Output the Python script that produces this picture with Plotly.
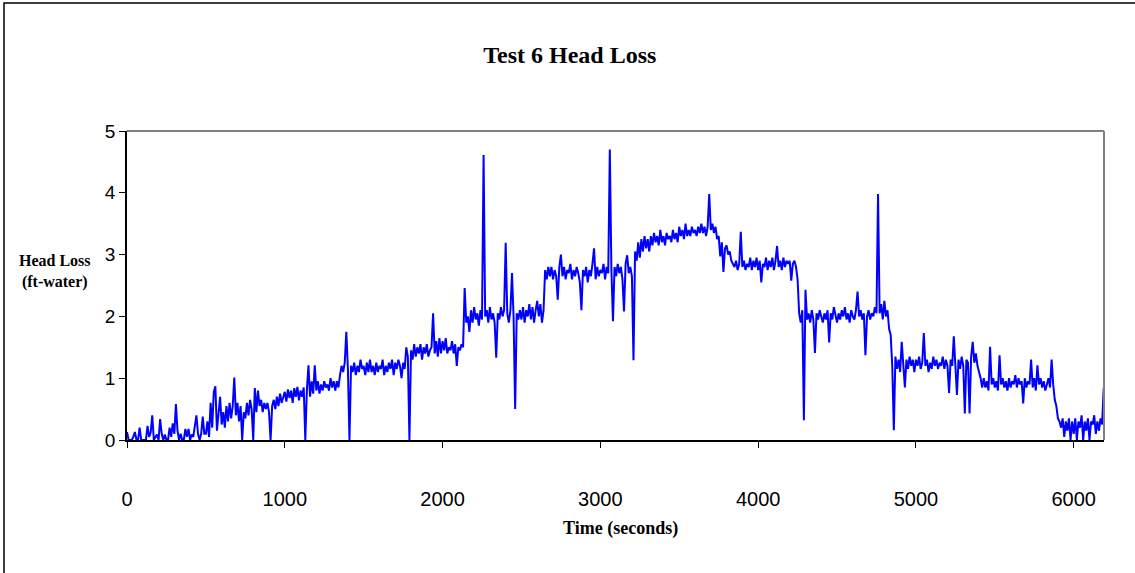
import numpy as np
import plotly.graph_objects as go

hl_0000 = [0.13, 0, 0, 0, 0.05, 0.13, 0, 0, 0.2, 0, 0, 0, 0, 0.23, 0.05, 0.12, 0.40, 0, 0.05, 0.09,
           0, 0.34, 0.1, 0, 0.09, 0, 0, 0.2, 0.05, 0.27, 0.1, 0.58, 0.15, 0, 0.1, 0, 0, 0.18, 0.05, 0.18,
           0, 0.09, 0.05, 0.2, 0.40, 0.1, 0, 0.1, 0.38, 0.1]
hl_0500 = [0.1, 0.3, 0.05, 0.6, 0.2, 0.78, 0.87, 0.15, 0.5, 0.7, 0.25, 0.45, 0.2, 0.55, 0.3, 0.6, 0.35, 0.55, 1.01, 0.4,
           0.6, 0.3, 0.55, 0.0, 0.45, 0.35, 0.6, 0.4, 0.65, 0.5, 0.0, 0.84, 0.45, 0.8, 0.55, 0.65, 0.45, 0.6, 0.5, 0.6,
           0.45, 0.0, 0.55, 0.65, 0.5, 0.7, 0.55, 0.75, 0.6, 0.7]
hl_1000 = [0.78, 0.62, 0.82, 0.68, 0.8, 0.6, 0.84, 0.7, 0.86, 0.64, 0.8, 0.7, 0.85, 0.0, 0.8, 1.21, 0.7, 0.95, 0.75, 1.21,
           0.8, 0.95, 0.75, 0.9, 0.8, 0.95, 0.85, 0.9, 0.8, 1.0, 0.85, 0.95, 0.8, 0.95, 0.85, 1.05, 1.2, 1.1, 1.25, 1.75,
           1.15, 0.0, 1.2, 1.1, 1.25, 1.05, 1.2, 1.1, 1.3, 1.15]
hl_1500 = [1.2, 1.05, 1.25, 1.1, 1.3, 1.1, 1.2, 1.05, 1.25, 1.1, 1.2, 1.15, 1.3, 1.05, 1.2, 1.1, 1.25, 1.15, 1.3, 1.05,
           1.25, 1.15, 1.3, 1.2, 1.0, 1.25, 1.15, 1.5, 1.35, 0.0, 1.45, 1.3, 1.55, 1.35, 1.5, 1.4, 1.55, 1.3, 1.5, 1.4,
           1.55, 1.35, 1.45, 1.5, 2.05, 1.4, 1.6, 1.35, 1.65, 1.4]
hl_2000 = [1.6, 1.45, 1.65, 1.4, 1.5, 1.45, 1.6, 1.4, 1.55, 1.2, 1.5, 1.45, 1.55, 1.5, 2.46, 1.9, 2.0, 1.75, 2.1, 1.9,
           2.15, 1.95, 2.05, 1.85, 2.1, 1.95, 4.61, 2.0, 2.1, 1.9, 2.15, 1.95, 2.05, 1.9, 1.33, 2.05, 1.95, 2.15, 2.0, 2.1,
           3.19, 2.05, 1.9, 2.1, 2.7, 2.0, 0.5, 2.05, 1.95, 2.1]
hl_2500 = [1.95, 2.15, 1.9, 2.1, 2.0, 2.2, 1.95, 2.15, 1.9, 2.1, 2.25, 2.0, 2.2, 1.9, 2.1, 2.75, 2.6, 2.8, 2.65, 2.8,
           2.6, 2.75, 2.65, 2.27, 2.8, 3.0, 2.65, 2.8, 2.6, 2.75, 2.7, 2.85, 2.6, 2.75, 2.65, 2.8, 2.7, 2.55, 2.1, 2.75,
           2.65, 2.8, 2.55, 2.75, 2.65, 2.85, 3.1, 2.6, 2.8, 2.65]
hl_3000 = [2.75, 2.7, 2.85, 2.6, 2.8, 2.7, 4.70, 2.75, 1.92, 2.8, 2.65, 2.85, 2.7, 2.8, 2.6, 2.08, 2.85, 2.99, 2.7, 2.8,
           2.65, 1.29, 3.05, 2.9, 3.2, 2.95, 3.25, 3.05, 3.3, 3.1, 3.25, 3.05, 3.3, 3.15, 3.35, 3.2, 3.3, 3.15, 3.4, 3.2,
           3.3, 3.15, 3.35, 3.25, 3.3, 3.2, 3.4, 3.25, 3.35, 3.2]
hl_3500 = [3.45, 3.3, 3.4, 3.25, 3.5, 3.3, 3.4, 3.3, 3.45, 3.35, 3.4, 3.3, 3.45, 3.35, 3.5, 3.35, 3.45, 3.3, 3.45, 3.98,
           3.4, 3.5, 3.35, 3.45, 3.25, 3.3, 2.97, 3.2, 2.72, 3.1, 3.15, 3.0, 3.05, 2.9, 2.85, 2.8, 2.9, 2.75, 2.85, 3.37,
           2.8, 2.9, 2.75, 2.85, 2.8, 2.95, 2.75, 2.9, 2.8, 2.95]
hl_4000 = [2.75, 2.9, 2.55, 2.85, 2.8, 2.95, 2.75, 2.9, 2.8, 2.95, 2.75, 2.9, 3.14, 2.8, 2.9, 2.75, 2.95, 2.8, 2.9, 2.85,
           2.9, 2.58, 2.85, 2.9, 2.8, 2.6, 2.05, 1.9, 2.1, 0.32, 2.43, 1.95, 2.05, 1.9, 2.1, 1.95, 1.41, 2.05, 1.95, 2.1,
           2.0, 1.9, 2.05, 1.95, 2.1, 1.58, 2.05, 1.95, 2.15, 2.0]
hl_4500 = [1.9, 2.05, 1.95, 2.1, 2.0, 2.15, 1.95, 2.05, 1.9, 2.1, 2.0, 1.95, 2.1, 2.4, 2.0, 2.1, 1.95, 2.05, 1.37, 2.0,
           2.1, 1.95, 2.05, 2.0, 2.15, 2.05, 3.98, 2.05, 2.2, 1.95, 2.25, 2.0, 2.1, 1.8, 1.7, 1.2, 0.16, 1.35, 1.15, 1.3,
           1.1, 1.59, 1.2, 0.85, 1.3, 1.15, 1.35, 1.2, 1.3, 1.1]
hl_5000 = [1.3, 1.2, 1.35, 1.15, 1.25, 1.73, 1.2, 1.3, 1.1, 1.25, 1.15, 1.35, 1.2, 1.3, 1.15, 1.25, 1.2, 1.35, 1.15, 1.3,
           1.2, 0.76, 1.3, 1.2, 1.68, 1.25, 0.73, 1.3, 1.15, 1.35, 1.2, 0.43, 1.3, 1.25, 0.43, 1.35, 1.59, 1.25, 1.4, 1.2,
           1.1, 1.0, 0.85, 1.0, 0.85, 0.95, 0.8, 1.51, 0.9, 1.0]
hl_5500 = [0.85, 0.95, 0.8, 1.37, 0.9, 1.0, 0.85, 0.95, 0.8, 1.0, 0.85, 0.95, 0.9, 1.05, 0.85, 1.0, 0.9, 0.95, 0.59, 1.0,
           0.85, 0.95, 0.9, 1.3, 0.85, 1.0, 0.8, 1.21, 0.9, 1.0, 0.85, 0.95, 0.8, 0.9, 1.0, 0.85, 1.3, 0.9, 0.65, 0.55,
           0.35, 0.3, 0.2, 0.35, 0.05, 0.3, 0.15, 0.35, 0.0, 0.3]
hl_6000 = [0.1, 0.35, 0.0, 0.3, 0.2, 0.4, 0.0, 0.3, 0.15, 0.35, 0.0, 0.3, 0.25, 0.4, 0.1, 0.3, 0.15, 0.35, 0.25, 0.84]

SAMPLE_STEP_S = 10
head_loss = (hl_0000 + hl_0500 + hl_1000 + hl_1500 + hl_2000 + hl_2500 + hl_3000 +
             hl_3500 + hl_4000 + hl_4500 + hl_5000 + hl_5500 + hl_6000)
time_s = np.arange(len(head_loss)) * SAMPLE_STEP_S

x_ticks = [0, 1000, 2000, 3000, 4000, 5000, 6000]
y_ticks = [0, 1, 2, 3, 4, 5]

title_text = "Test 6 Head Loss"
x_title = "Time (seconds)"
y_title = "Head Loss<br>(ft-water)"

W, H = 1135, 573
L, R, T, B = 127, 31, 131, 133
pw, ph = W - L - R, H - T - B

fig = go.Figure()
fig.add_trace(go.Scatter(x=time_s, y=head_loss, mode="lines",
                         line=dict(color="#0000FF", width=2), hoverinfo="x+y"))

axis_font = dict(family="Liberation Sans, Arial, sans-serif", size=19, color="black")
fig.update_layout(
    width=W, height=H,
    margin=dict(l=L, r=R, t=T, b=B, autoexpand=False),
    paper_bgcolor="white", plot_bgcolor="white",
    showlegend=False,
    title=dict(text=f"<b>{title_text}</b>", x=0.502, xanchor="center", y=1 - 55 / H, yanchor="middle",
               font=dict(family="Liberation Serif, Times New Roman, serif", size=24, color="black")),
    xaxis=dict(range=[0, 6192], tickvals=x_ticks, ticktext=[str(v) for v in x_ticks],
               showgrid=False, zeroline=False, showline=True, linecolor="black", linewidth=2,
               ticks="outside", ticklen=6, tickcolor="black", tickwidth=1,
               tickfont=dict(axis_font, size=20), ticklabelstandoff=34),
    yaxis=dict(range=[0, 5], tickvals=y_ticks, ticktext=[str(v) for v in y_ticks],
               showgrid=False, zeroline=False, showline=True, linecolor="black", linewidth=1.5,
               ticks="outside", ticklen=6, tickcolor="black", tickwidth=1,
               tickfont=axis_font),
)

# gray top and right frame of the plot area
fig.add_shape(type="line", xref="paper", yref="paper", x0=0, x1=1, y0=1, y1=1,
              line=dict(color="#808080", width=2))
fig.add_shape(type="line", xref="paper", yref="paper", x0=1, x1=1, y0=0, y1=1,
              line=dict(color="#808080", width=2))
# outer chart border
fig.add_shape(type="rect", xref="paper", yref="paper",
              x0=(4 - L) / pw, x1=(W + 10 - L) / pw,
              y0=(H - B - (H + 10)) / ph, y1=(H - B - 3) / ph,
              line=dict(color="black", width=1.5), layer="below")

fig.add_annotation(text=f"<b>{x_title}</b>", xref="paper", yref="paper",
                   x=(620 - L) / pw, y=(H - B - 528) / ph, showarrow=False,
                   xanchor="center", yanchor="middle",
                   font=dict(family="Liberation Serif, Times New Roman, serif", size=18, color="black"))
fig.add_annotation(text=f"<b>{y_title}</b>", xref="paper", yref="paper",
                   x=(55 - L) / pw, y=(H - B - 271) / ph, showarrow=False,
                   xanchor="center", yanchor="middle", align="center",
                   font=dict(family="Liberation Serif, Times New Roman, serif", size=16, color="black"))

fig.write_html("out.html", config={"displayModeBar": False},
               post_script="document.body.style.margin='0px';document.body.style.overflow='hidden';")
